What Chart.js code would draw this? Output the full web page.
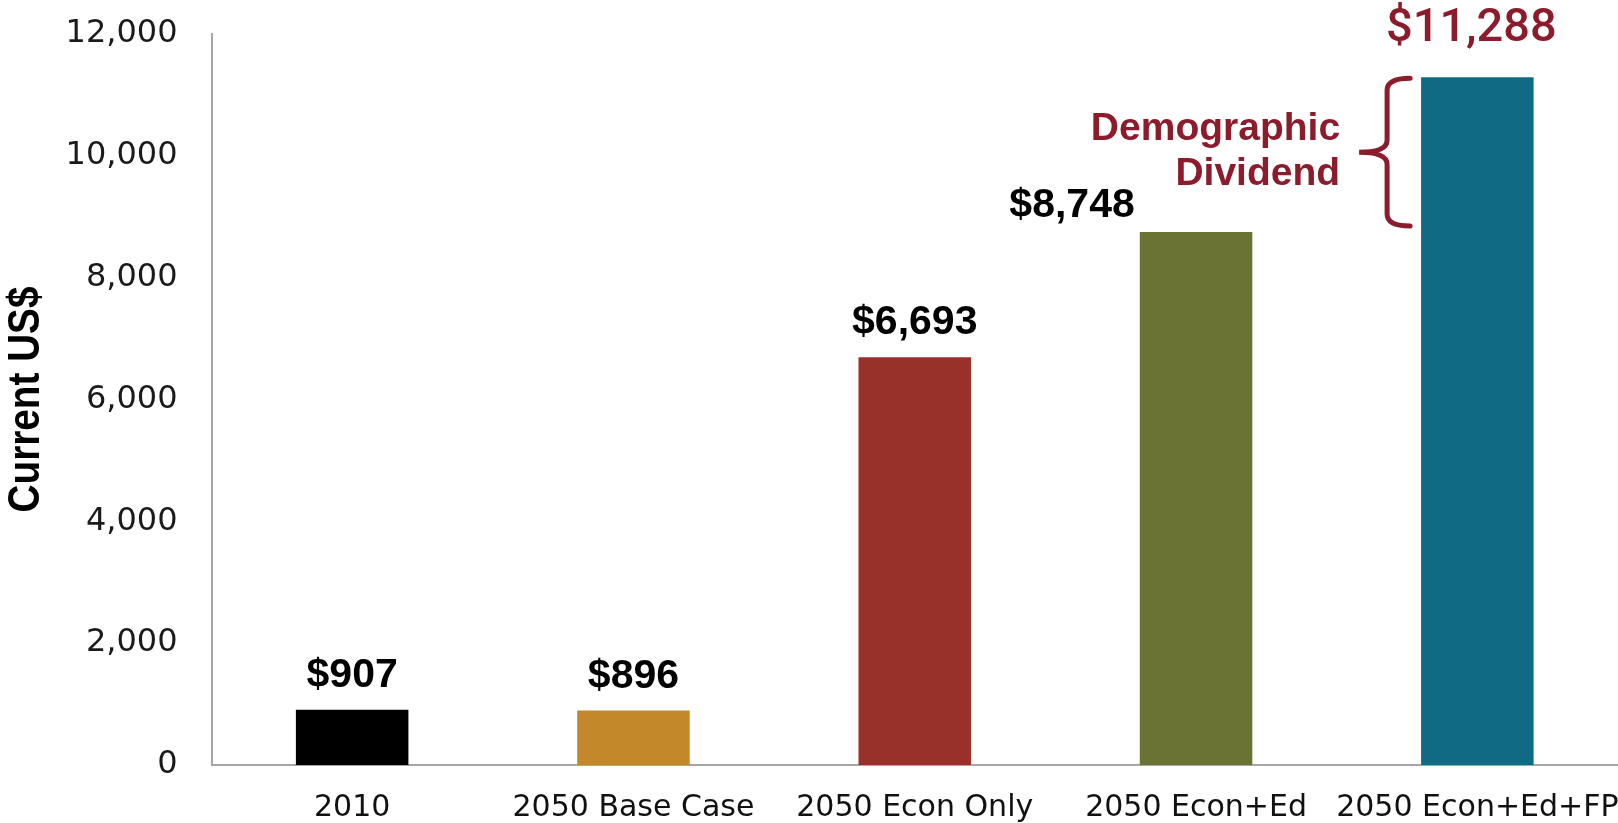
<!DOCTYPE html>
<html>
<head>
<meta charset="utf-8">
<script src="https://cdn.jsdelivr.net/npm/chart.js@4.4.0/dist/chart.umd.min.js"></script>
<style>
  html, body { margin: 0; padding: 0; background: #fff; }
</style>
</head>
<body>
<canvas id="gdpChart" width="1618" height="823"></canvas>
<script>
// GDP per capita scenarios, current US$
const scenarios = ['2010', '2050 Base Case', '2050 Econ Only', '2050 Econ+Ed', '2050 Econ+Ed+FP'];
const gdpPerCapita = [907, 896, 6693, 8748, 11288];
const yTickValues = [0, 2000, 4000, 6000, 8000, 10000, 12000];
const yAxisTitle = 'Current US$';
const bracketNote = ['Demographic', 'Dividend'];

const barColors = ['#000000', '#C38829', '#99312B', '#6B7334', '#106A83'];
const noteRed = '#8C1B2B';

// where each value label sits relative to the top of its bar
const labelShiftX = [0, 0, 0, -124, -6];
const labelLift = [34, 34, 35, 26, 48];

const valueLabels = {
    id: 'valueLabels',
    afterDatasetsDraw(chart) {
        const ctx = chart.ctx;
        const bars = chart.getDatasetMeta(0).data;
        ctx.save();
        ctx.textAlign = 'center';
        ctx.textBaseline = 'middle';
        bars.forEach((bar, i) => {
            const last = i === bars.length - 1;
            ctx.fillStyle = last ? noteRed : '#000';
            ctx.font = last ? '500 47px Roboto' : 'bold 41px "Liberation Sans"';
            const text = '$' + gdpPerCapita[i].toLocaleString('en-US');
            ctx.fillText(text, bar.x + labelShiftX[i], bar.y - labelLift[i]);
        });

        // curly bracket spanning the gap between the last two bars
        const yScale = chart.scales.y;
        const top = bars[bars.length - 1];
        const left = top.x - top.width / 2;
        const y0 = yScale.getPixelForValue(gdpPerCapita[4]) + 1;
        const y1 = yScale.getPixelForValue(gdpPerCapita[3]) - 6;
        const mid = (y0 + y1) / 2;
        const xEnd = left - 11, xV = left - 34, xTip = left - 62, r = 12;
        ctx.strokeStyle = noteRed;
        ctx.lineWidth = 5;
        ctx.lineCap = 'round';
        ctx.beginPath();
        ctx.moveTo(xEnd, y0);
        ctx.quadraticCurveTo(xV, y0, xV, y0 + r);
        ctx.lineTo(xV, mid - r);
        ctx.quadraticCurveTo(xV, mid, xTip, mid);
        ctx.quadraticCurveTo(xV, mid, xV, mid + r);
        ctx.lineTo(xV, y1 - r);
        ctx.quadraticCurveTo(xV, y1, xEnd, y1);
        ctx.stroke();

        ctx.fillStyle = noteRed;
        ctx.font = 'bold 39px "Liberation Sans"';
        ctx.textAlign = 'right';
        ctx.textBaseline = 'alphabetic';
        ctx.fillText(bracketNote[0], left - 81, mid - 12);
        ctx.fillText(bracketNote[1], left - 81, mid + 33);

        // narrow bold axis title, rotated up the left side
        const area = chart.chartArea;
        ctx.translate(27, (area.top + area.bottom) / 2);
        ctx.rotate(-Math.PI / 2);
        ctx.scale(0.88, 1);
        ctx.fillStyle = '#000';
        ctx.font = 'bold 44px "Liberation Sans"';
        ctx.textAlign = 'center';
        ctx.textBaseline = 'middle';
        ctx.fillText(yAxisTitle, 0, 0);
        ctx.restore();
    }
};

new Chart(document.getElementById('gdpChart'), {
    type: 'bar',
    data: {
        labels: scenarios,
        datasets: [{
            data: gdpPerCapita,
            backgroundColor: barColors,
            borderWidth: 0,
            barPercentage: 0.8,
            categoryPercentage: 0.5,
        }],
    },
    options: {
        responsive: false,
        animation: false,
        devicePixelRatio: 1,
        layout: { padding: { top: 34, right: 0, bottom: 0, left: 0 } },
        plugins: {
            legend: { display: false },
            tooltip: { enabled: false },
        },
        scales: {
            x: {
                grid: { display: false, drawTicks: false },
                border: { display: true, color: '#A6A6A6', width: 2 },
                ticks: {
                    color: '#111',
                    padding: 25,
                    maxRotation: 0,
                    autoSkip: false,
                    font: { family: '"DejaVu Sans"', size: 30 },
                },
                afterFit(scale) {
                    scale.height = 58;
                    scale.paddingLeft = 0;
                    scale.paddingRight = 0;
                },
            },
            y: {
                min: 0,
                max: 12000,
                grid: { display: false, drawTicks: false },
                border: { display: true, color: '#A6A6A6', width: 2 },
                afterBuildTicks(scale) {
                    scale.ticks = yTickValues.map((v) => ({ value: v }));
                },
                ticks: {
                    color: '#1a1a1a',
                    padding: 34,
                    font: { family: '"DejaVu Sans"', size: 32 },
                    callback: (v) => v.toLocaleString('en-US'),
                },
                afterFit(scale) {
                    scale.width = 211.5;
                    scale.paddingTop = 0;
                    scale.paddingBottom = 0;
                },
            },
        },
    },
    plugins: [valueLabels],
});
</script>
</body>
</html>
